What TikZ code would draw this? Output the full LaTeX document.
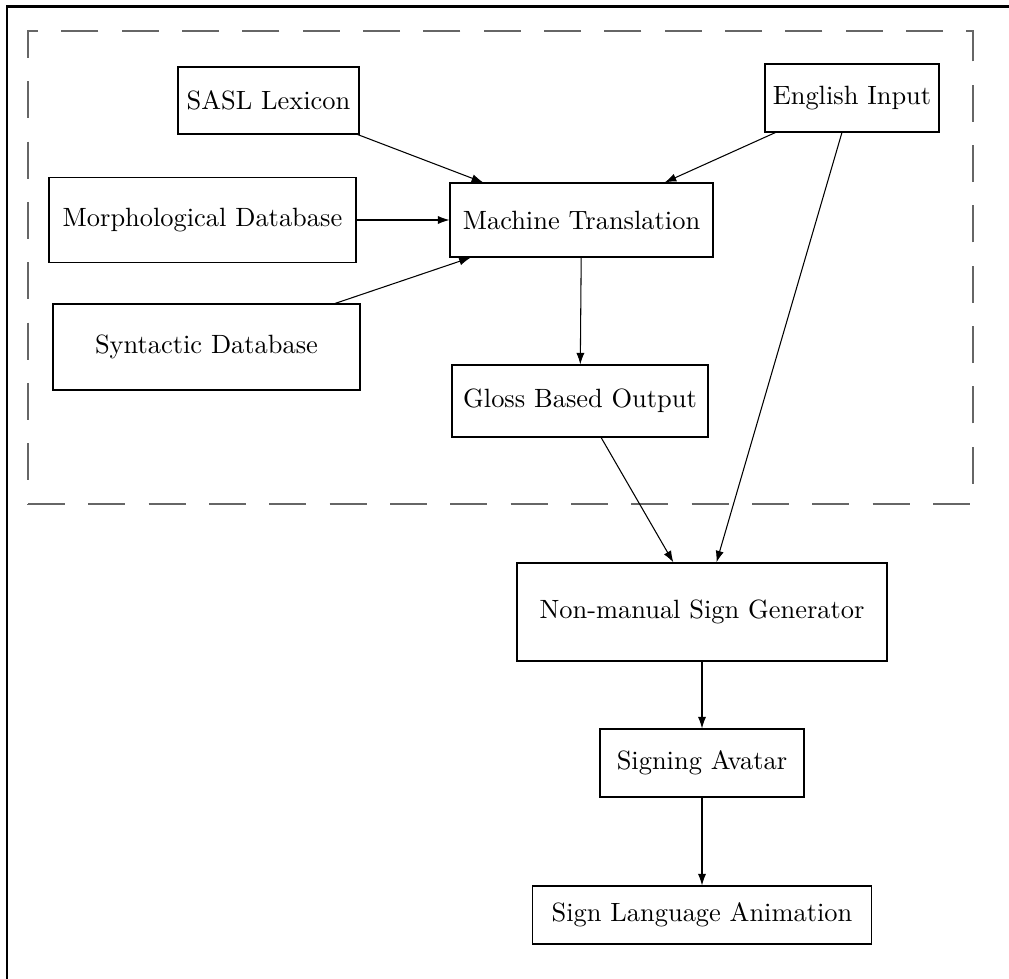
\documentclass[tikz,border=0pt]{standalone}
\usetikzlibrary{arrows.meta}
% one drawing unit = one pixel of the final page
\newcommand\pxu{0.3784pt}
\begin{document}
\begin{tikzpicture}[
  x=0.3784pt, y=-0.3784pt,
  box/.style={draw, line width=0.4pt, inner sep=0pt, align=center},
  flow/.style={line width=0.4pt, -{Latex[length=4.4pt,width=3.1pt]}},
  group/.style={black!60, line width=0.5pt, dash pattern=on 14pt off 8.83pt},
  frame/.style={line width=1pt}
]
\useasboundingbox (0,0) rectangle (1009,979);

% page frame (left and top)
\draw[frame] (7,979) -- (7,6.5) -- (1009,6.5);

% translation stage
\draw[group] (28,504) -- (973,504) -- (973,31) -- (28,31) -- cycle;

\node[box, minimum width=181*\pxu, minimum height=67*\pxu] (sasl)  at (268.5,100.5) {SASL Lexicon};
\node[box, minimum width=174*\pxu, minimum height=68*\pxu] (eng)   at (852,98)      {English Input};
\node[box, minimum width=307*\pxu, minimum height=85*\pxu] (morph) at (202.5,220)   {Morphological Database};
\node[box, minimum width=263*\pxu, minimum height=74*\pxu] (mt)    at (581.5,220)   {Machine Translation};
\node[box, minimum width=307*\pxu, minimum height=86*\pxu] (syn)   at (206.5,347)   {Syntactic Database};
\node[box, minimum width=256*\pxu, minimum height=72*\pxu] (gloss) at (580,401)     {Gloss Based Output};

% signing stage
\node[box, minimum width=370*\pxu, minimum height=98*\pxu] (nms)   at (702,612)     {Non-manual Sign Generator};
\node[box, minimum width=204*\pxu, minimum height=68*\pxu] (avat)  at (702,763)     {Signing Avatar};
\node[box, minimum width=339*\pxu, minimum height=58*\pxu] (anim)  at (702,915)     {Sign Language Animation};

\draw[flow] (sasl)  -- (mt);
\draw[flow] (eng)   -- (mt);
\draw[flow] (morph) -- (mt);
\draw[flow] (syn)   -- (mt);
\draw[flow] (mt)    -- (gloss);
\draw[flow] (gloss) -- (nms);
\draw[flow] (eng)   -- (nms);
\draw[flow] (nms)   -- (avat);
\draw[flow] (avat)  -- (anim);
\end{tikzpicture}
\end{document}
